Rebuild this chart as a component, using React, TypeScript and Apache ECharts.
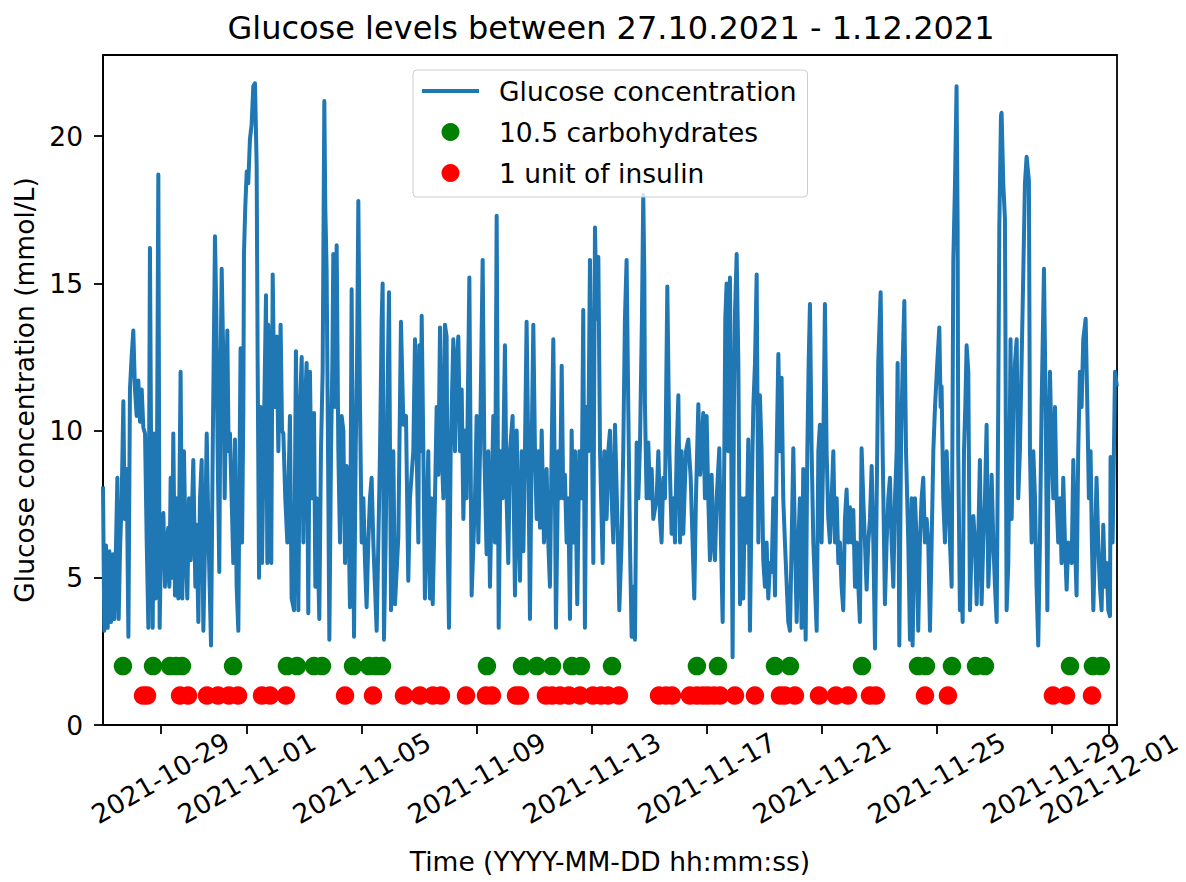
import React, { useEffect, useRef } from "react";
import * as echarts from "echarts";

const TITLE = "Glucose levels between 27.10.2021 - 1.12.2021";
const X_NAME = "Time (YYYY-MM-DD hh:mm:ss)";
const Y_NAME = "Glucose concentration (mmol/L)";
const SERIES_NAMES = ["Glucose concentration", "10.5 carbohydrates", "1 unit of insulin"];

const RECORD_START = "2021-10-27 00:00";
const AXIS_END = "2021-12-01 06:40";
const xTickDates = [
  "2021-10-29", "2021-11-01", "2021-11-05", "2021-11-09", "2021-11-13",
  "2021-11-17", "2021-11-21", "2021-11-25", "2021-11-29", "2021-12-01",
];
const yTicks = [0, 5, 10, 15, 20];
const Y_MAX = 22.76;

// [hours since RECORD_START, glucose mmol/L]
const glucoseReadings: [number, number][] = [
[0,8.1],[1.1,3.2],[2.5,6.1],[3.9,3.3],[5.3,5.9],[6.7,3.5],[8.1,5.8],[9.5,3.6],[10.9,6.2],[12.0,8.4],
[13.1,3.6],[14.2,5.9],[15.6,7.7],[17.0,11.0],[18.1,7.0],[19.8,8.7],[21.2,3.0],[22.5,11.4],[23.9,12.5],[25.3,13.4],
[26.7,11.4],[28.1,10.5],[29.5,11.7],[30.9,10.3],[32.3,11.4],[33.7,10.1],[35.1,9.9],[36.5,6.2],[37.9,3.3],[39.2,16.2],
[40.4,7.7],[41.5,3.3],[42.6,9.9],[44.0,4.3],[45.1,9.3],[46.2,18.7],[47.3,3.3],[48.7,6.8],[50.4,7.2],[51.8,4.7],
[53.2,6.2],[54.5,6.7],[55.4,4.7],[56.5,8.4],[57.6,5.0],[58.7,9.9],[60.1,4.4],[61.5,7.7],[62.9,4.3],[64.8,12.0],
[66.2,4.3],[67.6,9.3],[69.0,5.9],[70.4,4.3],[71.8,7.7],[73.2,5.6],[75.4,9.0],[77.1,4.7],[78.2,6.8],[79.6,3.5],
[81.0,7.7],[82.4,9.0],[83.8,3.2],[85.2,6.2],[86.6,9.9],[88.2,6.2],[90.2,2.7],[91.6,9.3],[93.5,16.6],[94.6,14.1],
[95.7,9.3],[97.1,5.2],[98.2,12.3],[99.1,15.5],[100.5,12.3],[101.6,7.7],[102.7,10.8],[103.8,13.4],[104.9,9.3],[106.0,9.9],
[107.4,7.7],[108.8,5.5],[110.2,9.7],[111.6,4.7],[113.0,3.2],[114.1,9.3],[114.9,12.8],[116.1,6.2],[117.2,10.8],[117.7,16.0],
[118.8,17.6],[120.0,18.8],[121.3,18.4],[122.7,19.9],[124.1,20.4],[125.5,21.7],[126.9,21.8],[128.3,19.0],[129.1,12.5],[130.3,5.0],
[131.6,10.8],[132.8,5.5],[134.1,9.3],[136.1,14.6],[137.2,5.5],[138.0,13.6],[139.4,10.8],[140.5,5.5],[141.7,15.3],[143.1,10.8],
[145.0,13.2],[146.4,9.3],[148.3,13.6],[149.5,10.0],[150.6,9.9],[152.2,7.7],[153.9,6.2],[156.1,10.5],[157.5,4.3],[159.5,3.9],
[161.1,12.7],[163.1,3.9],[164.5,10.8],[165.9,12.5],[167.3,6.2],[168.7,10.8],[170.0,12.3],[171.4,3.8],[172.8,12.0],[174.2,7.7],
[176.2,10.6],[177.3,4.7],[178.4,7.7],[180.6,3.6],[182.0,9.3],[183.4,12.0],[184.8,21.2],[185.6,17.6],[186.7,15.5],[187.9,9.3],
[189.0,2.9],[190.4,9.3],[191.5,12.3],[192.3,16.0],[193.7,10.8],[195.1,16.3],[196.5,9.3],[197.9,6.2],[199.3,10.5],[200.7,10.0],
[202.1,5.5],[203.4,8.8],[204.8,7.7],[206.2,4.0],[207.6,14.8],[208.7,7.7],[209.6,3.0],[211.0,9.3],[212.1,12.3],[213.2,17.8],
[214.6,10.8],[216.0,6.2],[217.4,7.7],[218.8,5.5],[220.1,4.0],[221.5,6.2],[222.9,7.7],[224.3,8.4],[225.7,6.2],[227.1,4.7],
[228.5,3.2],[229.9,6.2],[231.3,9.3],[232.7,13.8],[233.5,15.0],[234.6,2.9],[236.0,6.2],[237.4,10.8],[238.8,14.7],
[240.5,3.9],[242.4,9.3],[243.8,4.1],[246.6,6.4],[248.8,13.7],[250.8,10.2],[253.0,10.5],[254.9,4.9],[256.3,7.7],[259.1,9.3],
[260.5,13.1],[261.9,9.3],[263.3,6.2],[264.1,12.9],[265.2,9.3],[266.1,13.9],[267.5,9.3],[268.8,4.3],[270.2,6.5],[271.6,9.3],
[273.0,4.3],[274.1,7.7],[275.3,4.1],[277.2,7.7],[278.6,10.8],[280.0,8.5],[281.4,13.5],[282.8,9.3],[284.2,7.7],[285.5,13.6],
[286.9,13.2],[287.8,6.2],[288.9,3.3],[290.3,9.3],[292.5,13.1],[293.9,9.3],[295.3,12.3],[296.7,13.2],[298.1,9.3],[299.5,11.4],
[300.9,7.0],[302.2,10.0],[303.6,7.7],[305.9,15.2],[307.8,4.4],[310.6,7.7],[312.0,10.5],[313.4,6.2],[314.8,9.3],[317.0,15.8],
[318.4,9.3],[320.3,5.8],[321.7,9.3],[323.1,4.7],[325.9,10.5],[327.3,6.2],[328.7,17.3],[329.5,10.8],[330.4,3.3],[332.0,9.3],
[333.7,7.7],[335.6,12.9],[337.0,7.7],[338.4,5.5],[339.8,9.3],[342.0,10.5],[344.0,4.4],[345.4,10.0],[346.8,7.0],[348.2,4.9],
[349.6,9.3],[351.0,5.9],[352.3,9.3],[353.7,13.7],[355.1,9.3],[356.5,3.6],[357.9,9.3],[359.3,13.6],[360.7,9.3],[362.1,7.0],
[363.5,9.3],[364.9,6.7],[366.3,10.0],[368.2,6.2],[370.4,8.7],[371.8,6.2],[373.2,4.7],[374.6,9.3],[376.0,13.1],[377.4,7.7],
[378.2,3.3],[380.2,9.3],[381.6,7.7],[383.0,12.2],[384.3,7.7],[385.7,8.5],[387.1,6.2],[388.5,7.7],[389.9,3.6],[391.3,10.0],
[392.7,6.2],[394.1,9.3],[396.0,4.1],[397.7,9.3],[399.7,7.7],[401.0,14.1],[402.4,3.3],[403.8,10.8],[405.2,9.3],[406.6,15.8],
[408.0,10.8],[409.4,5.5],[410.8,16.9],[412.2,13.8],[413.6,15.9],[415.0,9.3],[417.2,5.5],[418.6,9.3],[420.5,7.0],[421.9,9.3],
[423.3,10.0],[424.7,7.7],[426.1,6.2],[427.5,10.2],[430.0,6.2],[431.1,3.9],[433.0,6.2],[434.4,9.3],[435.8,13.8],[437.2,15.8],
[438.6,10.8],[440.0,6.2],[441.4,3.0],[442.8,4.7],[444.2,2.9],[445.6,9.6],[447.0,7.7],[448.4,9.6],[450.0,13.8],[451.1,18.0],
[452.0,15.3],[452.5,10.9],[453.9,7.7],[455.3,9.6],[456.7,7.7],[458.1,8.7],[459.5,7.0],[462.3,7.7],[463.7,9.3],[465.1,7.0],
[466.4,6.2],[467.8,8.4],[469.2,7.7],[470.1,10.8],[471.2,14.9],[472.9,9.3],[474.8,6.5],[476.2,7.7],[477.6,6.2],[479.0,9.3],
[480.4,11.2],
[481.8,6.2],[483.1,9.3],[484.5,6.5],[486.8,9.3],[488.7,9.7],[490.7,8.4],[492.3,6.2],[493.7,4.3],[495.1,7.7],[497.1,10.9],
[498.5,8.5],[499.8,9.3],[501.2,10.6],[502.6,7.7],[504.0,10.5],[505.4,7.7],[506.8,5.6],[508.2,8.5],[509.6,6.2],[511.0,5.6],
[512.4,7.7],[514.6,9.4],[516.0,6.2],[517.4,3.5],[518.8,9.3],[519.6,13.8],[520.7,15.0],[522.1,9.3],[523.5,15.2],[524.6,9.3],
[525.7,2.3],[526.8,10.8],[527.7,14.0],[529.1,16.0],[530.5,12.3],[531.9,4.1],[533.2,7.7],[534.6,4.3],[536.0,7.7],[537.4,6.2],
[538.8,9.7],[540.2,3.2],[541.6,7.7],[543.0,10.8],[544.4,12.3],[545.8,15.3],[547.2,6.2],[548.5,11.2],[549.9,9.3],[551.3,5.6],
[552.7,4.7],[554.1,6.2],[555.5,4.3],[556.9,5.5],[558.3,5.2],[559.7,7.7],[561.1,4.4],[562.5,9.3],[563.9,12.6],[565.2,9.3],
[566.6,11.8],[568.0,7.7],[569.4,6.2],[572.2,3.5],[573.6,3.2],[575.0,6.2],[576.4,9.4],[577.8,6.2],[579.2,3.5],[580.6,6.2],
[581.9,7.7],[583.3,3.3],[584.7,8.7],[585.6,6.2],[586.7,2.9],[588.1,9.3],[589.2,12.3],[590.3,14.3],[591.7,9.3],[593.1,6.2],
[594.5,4.7],[595.9,3.2],[597.3,9.3],[598.6,10.2],[600.0,6.2],[601.4,9.3],[602.8,14.3],[604.2,9.3],[605.6,7.0],[607.0,6.2],
[608.4,7.7],[609.8,9.3],[611.2,6.2],[612.6,7.7],[614.0,5.5],[615.3,6.2],[616.7,4.7],[618.1,3.9],[619.5,7.0],[620.9,8.0],
[622.3,6.2],[623.7,7.4],[625.1,6.2],[626.5,7.3],[627.9,4.7],[629.3,6.2],[630.7,4.7],[632.0,3.5],[633.4,9.4],[634.8,7.7],
[636.2,6.2],[637.6,4.6],[639.0,6.2],[640.4,7.0],[641.8,8.8],[643.2,6.2],[644.6,2.6],[646.0,7.7],[647.3,12.3],[649.3,14.7],
[651.0,9.3],[652.9,4.1],[654.3,6.2],[655.7,7.7],[657.1,8.4],[658.5,6.2],[659.9,4.7],[661.3,7.7],[662.7,9.3],[663.5,12.3],
[664.9,2.7],[666.3,9.3],[667.7,12.3],[669.1,14.4],[670.5,9.3],[672.4,6.2],[673.8,2.9],[675.2,7.7],[676.0,2.7],[678.0,7.7],
[679.4,6.2],[680.7,3.2],[682.1,6.2],[683.5,7.7],[684.9,8.4],[686.3,6.2],[687.7,7.0],[689.1,6.2],[690.5,3.2],[691.9,6.2],
[693.3,9.3],[694.7,10.8],[696.6,12.3],[698.3,13.5],[699.4,10.8],[700.2,11.5],[701.6,7.7],[703.0,6.2],[704.4,9.3],[705.8,7.7],
[707.2,6.2],[708.6,4.7],[710.0,15.8],[711.4,18.4],[712.7,21.7],[713.6,16.9],[714.1,9.3],[715.5,3.9],[716.9,4.7],[717.8,3.5],
[718.9,9.3],[720.0,10.8],[721.1,12.9],[722.5,12.0],
[723.9,3.9],[725.3,6.2],[726.7,7.1],[728.1,6.2],[729.5,4.1],[730.8,6.2],[732.2,9.0],[733.6,4.1],[735.0,6.2],[736.4,7.7],
[737.8,10.2],[739.2,4.7],[740.6,6.2],[742.0,8.5],[743.4,6.2],[744.8,4.7],[746.2,3.5],[747.5,10.8],[748.4,16.9],[749.8,20.7],
[750.3,20.8],[751.7,18.4],[753.1,17.2],[754.5,3.9],[755.9,5.5],[757.3,10.8],[757.8,13.1],[758.7,7.0],[760.1,10.8],[761.5,12.3],
[762.9,13.1],[764.2,7.7],[765.6,9.3],[767.0,12.3],[768.4,15.3],[769.8,18.4],[771.2,19.3],[773.1,18.5],[774.0,9.3],[775.4,6.2],
[776.8,9.3],[778.2,7.7],[779.5,4.7],[780.9,2.7],[782.3,6.2],[783.7,10.8],[785.7,15.5],[787.1,10.8],[788.5,3.9],[789.6,9.3],
[790.7,12.0],[792.1,9.3],[793.5,7.7],[794.9,10.8],[796.2,7.7],[797.6,6.2],[799.0,7.7],[800.4,5.5],[801.8,8.4],[803.2,6.2],
[804.6,4.6],[806.0,6.2],[808.8,5.5],[810.2,9.0],[811.6,6.2],[812.9,4.4],[814.3,9.3],[815.7,12.0],[817.1,10.8],[818.5,13.1],
[820.5,13.8],[821.9,10.8],[823.2,7.7],[824.6,9.3],[825.7,6.2],[826.9,3.9],[828.3,6.2],[829.6,8.4],[831.0,6.2],[832.4,4.7],
[833.8,3.9],[835.2,6.8],[836.6,4.7],[838.0,5.5],[839.4,3.9],[840.8,3.7],[841.3,9.1],[843.0,6.2],[845.0,12.0],[846.6,11.5],
];

const carbTimes = [
  "2021-10-27 16:40", "2021-10-28 17:45", "2021-10-29 07:55", "2021-10-29 13:00", "2021-10-29 17:55",
  "2021-10-31 12:35", "2021-11-02 09:35", "2021-11-02 18:00", "2021-11-03 08:10", "2021-11-03 14:50",
  "2021-11-04 16:45", "2021-11-05 06:05", "2021-11-05 11:55", "2021-11-05 16:55", "2021-11-09 08:35",
  "2021-11-10 13:50", "2021-11-11 02:20", "2021-11-11 14:55", "2021-11-12 07:35", "2021-11-12 15:05",
  "2021-11-13 17:00", "2021-11-16 15:55", "2021-11-17 09:30", "2021-11-19 09:05", "2021-11-19 21:35",
  "2021-11-22 09:45", "2021-11-24 08:30", "2021-11-24 15:10", "2021-11-25 12:50", "2021-11-26 08:55",
  "2021-11-26 16:25", "2021-11-29 15:25", "2021-11-30 10:35", "2021-11-30 17:15",
];
const insulinTimes = [
  "2021-10-28 09:25", "2021-10-28 12:45", "2021-10-29 16:20", "2021-10-29 23:00", "2021-10-30 14:50",
  "2021-10-31 00:00", "2021-10-31 09:10", "2021-10-31 16:45", "2021-11-01 12:45", "2021-11-01 19:25",
  "2021-11-02 08:45", "2021-11-04 10:05", "2021-11-05 09:25", "2021-11-06 11:20", "2021-11-07 00:40",
  "2021-11-07 11:30", "2021-11-07 18:10", "2021-11-08 15:05", "2021-11-09 07:45", "2021-11-09 12:45",
  "2021-11-10 08:50", "2021-11-10 12:10", "2021-11-11 09:50", "2021-11-11 14:55", "2021-11-11 21:35",
  "2021-11-12 05:05", "2021-11-12 14:15", "2021-11-13 01:05", "2021-11-13 07:50", "2021-11-13 13:40",
  "2021-11-13 22:50", "2021-11-15 08:15", "2021-11-15 14:05", "2021-11-15 19:05", "2021-11-16 10:05",
  "2021-11-16 15:55", "2021-11-16 20:55", "2021-11-17 01:10", "2021-11-17 06:10", "2021-11-17 11:10",
  "2021-11-17 23:40", "2021-11-18 16:20", "2021-11-19 13:15", "2021-11-19 17:25", "2021-11-20 01:45",
  "2021-11-20 21:50", "2021-11-21 12:00", "2021-11-21 22:00", "2021-11-22 16:25", "2021-11-22 21:25",
  "2021-11-24 14:20", "2021-11-25 09:30", "2021-11-29 01:10", "2021-11-29 12:05", "2021-11-30 09:45",
];
const CARB_MARKER_LEVEL = 2;
const INSULIN_MARKER_LEVEL = 1;

const FONT = '"DejaVu Sans", "Noto Sans", sans-serif';

function toMs(s: string): number {
  const [d, t = "00:00"] = s.split(" ");
  const [Y, M, D] = d.split("-").map(Number);
  const [h, m] = t.split(":").map(Number);
  return Date.UTC(Y, M - 1, D, h, m);
}
const pad = (n: number) => (n < 10 ? "0" + n : "" + n);
function fmtDate(v: number): string {
  const d = new Date(v);
  return `${d.getUTCFullYear()}-${pad(d.getUTCMonth() + 1)}-${pad(d.getUTCDate())}`;
}

export default function App() {
  const ref = useRef<HTMLDivElement>(null);
  useEffect(() => {
    if (!ref.current) return;
    const chart = echarts.init(ref.current, undefined, { renderer: "svg" });
    const start = toMs(RECORD_START);
    const glucoseData = glucoseReadings.map(([h, v]) => [start + h * 3600000, v]);
    const carbData = carbTimes.map((t) => [toMs(t), CARB_MARKER_LEVEL]);
    const insulinData = insulinTimes.map((t) => [toMs(t), INSULIN_MARKER_LEVEL]);
    const xTickValues = xTickDates.map((d) => toMs(d));
    const textBase = { fontFamily: FONT, fontSize: 26.5, color: "#000" };

    chart.setOption({
      animation: false,
      backgroundColor: "#fff",
      title: {
        text: TITLE,
        left: 606,
        top: 7,
        textAlign: "center",
        textStyle: { fontFamily: FONT, fontSize: 32, fontWeight: "normal", color: "#000" },
      },
      legend: {
        orient: "vertical",
        left: 413,
        top: 70,
        padding: [6, 11, 9, 9],
        itemWidth: 57,
        itemHeight: 18,
        itemGap: 11,
        backgroundColor: "rgba(255,255,255,0.8)",
        borderColor: "#cccccc",
        borderWidth: 1,
        borderRadius: 4,
        selectedMode: false,
        textStyle: { ...textBase, lineHeight: 30, padding: [0, 0, 0, 15] },
        data: [
          { name: SERIES_NAMES[0], icon: "path://M0,0L57,0L57,4L0,4Z" },
          { name: SERIES_NAMES[1], icon: "circle" },
          { name: SERIES_NAMES[2], icon: "circle" },
        ],
      },
      grid: {
        left: 103,
        top: 55,
        width: 1014,
        height: 670,
        show: true,
        borderColor: "#000",
        borderWidth: 1.8,
        backgroundColor: "transparent",
      },
      xAxis: {
        type: "value",
        min: start,
        max: toMs(AXIS_END),
        name: X_NAME,
        nameLocation: "middle",
        nameGap: 123,
        nameTextStyle: textBase,
        axisLine: { show: true, onZero: false, lineStyle: { color: "#000", width: 1.8 } },
        axisTick: { show: true, length: 9, lineStyle: { color: "#000", width: 1.8 }, customValues: xTickValues },
        axisLabel: {
          ...textBase,
          customValues: xTickValues,
          rotate: 30,
          align: "center",
          verticalAlign: "middle",
          margin: 53,
          formatter: (v: number) => fmtDate(v),
        },
        splitLine: { show: false },
      },
      yAxis: {
        type: "value",
        min: 0,
        max: Y_MAX,
        name: Y_NAME,
        nameLocation: "middle",
        nameGap: 64,
        nameTextStyle: textBase,
        axisLine: { show: true, lineStyle: { color: "#000", width: 1.8 } },
        axisTick: { show: true, length: 9, lineStyle: { color: "#000", width: 1.8 }, customValues: yTicks },
        axisLabel: { ...textBase, customValues: yTicks, margin: 20 },
        splitLine: { show: false },
      },
      series: [
        {
          name: SERIES_NAMES[0],
          type: "line",
          data: glucoseData,
          showSymbol: false,
          symbol: "none",
          lineStyle: { color: "#1f77b4", width: 4, join: "round" },
          itemStyle: { color: "#1f77b4" },
          z: 2,
        },
        {
          name: SERIES_NAMES[1],
          type: "scatter",
          data: carbData,
          symbolSize: 18.5,
          itemStyle: { color: "#008000", opacity: 1 },
          z: 3,
        },
        {
          name: SERIES_NAMES[2],
          type: "scatter",
          data: insulinData,
          symbolSize: 18.5,
          itemStyle: { color: "#ff0000", opacity: 1 },
          z: 3,
        },
      ],
    });
    return () => chart.dispose();
  }, []);
  return (
    <div
      ref={ref}
      style={{ position: "absolute", left: 0, top: 0, width: 1186, height: 882, background: "#fff" }}
    />
  );
}
